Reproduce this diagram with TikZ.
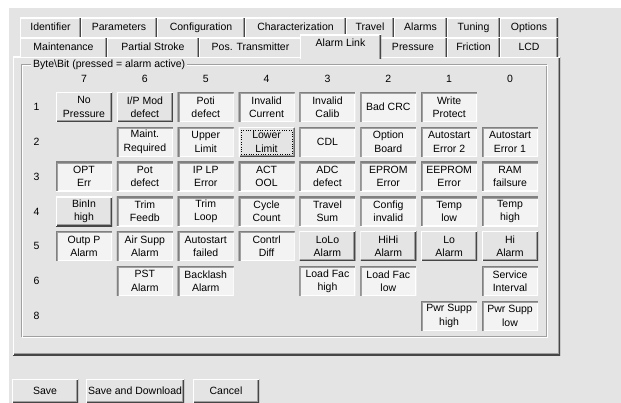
\documentclass[tikz,border=0pt]{standalone}
\usepackage{fontspec}
\setmainfont{Liberation Sans}
\usepackage{tikz}
\definecolor{winbg}{RGB}{228,228,228}
\definecolor{pressbg}{RGB}{243,243,243}
\definecolor{btnshade}{RGB}{160,160,160}
\definecolor{btnedge}{RGB}{70,70,70}

\begin{document}
\begin{tikzpicture}
   [x=1pt, y=-1pt,
    font=\fontsize{10.5}{13.4}\selectfont,
    % raised and sunken 3d boxes
    raised/.style={fill=winbg, inner sep=0pt, align=center,
      path picture={
        \draw[fill=none, btnshade, line width=4pt] (path picture bounding box.south west) -| (path picture bounding box.north east);
        \draw[fill=none, btnedge, line width=2pt] (path picture bounding box.south west) -| (path picture bounding box.north east);
        \draw[fill=none, white, line width=2pt] (path picture bounding box.south west) |- (path picture bounding box.north east);
      }},
    sunken/.style={fill=pressbg, inner sep=0pt, align=center,
      path picture={
        \draw[fill=none, white, line width=2pt] (path picture bounding box.south west) -| (path picture bounding box.north east);
        \draw[fill=none, btnshade, line width=4pt] (path picture bounding box.south west) |- (path picture bounding box.north east);
        \draw[fill=none, gray, line width=2pt] (path picture bounding box.south west) |- (path picture bounding box.north east);
      }},
    tab/.style={fill=winbg, inner sep=0pt, text height=8pt, text depth=2pt,
      path picture={
        \draw[fill=none, white, line width=2pt] (path picture bounding box.south west) |- (path picture bounding box.north east);
        \draw[fill=none, btnshade, line width=4pt] (path picture bounding box.south east) -- (path picture bounding box.north east);
        \draw[fill=none, btnedge, line width=2pt] (path picture bounding box.south east) -- (path picture bounding box.north east);
      }},
    btn/.style={minimum width=56pt, minimum height=29.5pt},
    cmd/.style={raised, minimum height=24pt}]

   \useasboundingbox (0,0) rectangle (621,403);
   \fill[white] (0,0) rectangle (621,403);
   \fill[winbg] (9,8) rectangle (621,403);

   % tab panel
   \node[raised, minimum width=547pt, minimum height=298pt] (panel) at (286.5,206) {};

   % back row of tabs
   \node[tab, minimum width=61pt, minimum height=20pt] (tident) at (50.5,28) {Identifier};
   \node[tab, minimum width=76pt, minimum height=20pt] (tparam) at (119,28) {Parameters};
   \node[tab, minimum width=88pt, minimum height=20pt] (tconf) at (201,28) {Configuration};
   \node[tab, minimum width=101pt, minimum height=20pt] (tchar) at (295.5,28) {Characterization};
   \node[tab, minimum width=48pt, minimum height=20pt] (ttravel) at (370,28) {Travel};
   \node[tab, minimum width=53pt, minimum height=20pt] (talarms) at (420.5,28) {Alarms};
   \node[tab, minimum width=53pt, minimum height=20pt] (ttuning) at (473.5,28) {Tuning};
   \node[tab, minimum width=58pt, minimum height=20pt] (toptions) at (529,28) {Options};

   % front row of tabs
   \node[tab, minimum width=87pt, minimum height=19pt] (tmaint) at (63.5,47.5) {Maintenance};
   \node[tab, minimum width=92pt, minimum height=19pt] (tpst) at (153,47.5) {Partial Stroke};
   \node[tab, minimum width=103pt, minimum height=19pt] (tpos) at (250.5,47.5) {Pos. Transmitter};
   \node[tab, minimum width=68pt, minimum height=19pt] (tpress) at (413,47.5) {Pressure};
   \node[tab, minimum width=53pt, minimum height=19pt] (tfric) at (473.5,47.5) {Friction};
   \node[tab, minimum width=58pt, minimum height=19pt] (tlcd) at (529,47.5) {LCD};
   \node[tab, text depth=8pt, minimum width=81pt, minimum height=24pt] (talarmlink) at (340.5,47) {Alarm Link};

   % group box
   \draw[btnshade] (21.5,64.5) rectangle (546.5,336.5);
   \draw[white] (22.5,65.5) rectangle (547.5,337.5);
   \node[fill=winbg, inner xsep=2pt, inner ysep=0pt, anchor=west] (grp) at (31,64.5)
     {Byte\textbackslash Bit (pressed = alarm active)};

   % bit numbers and byte numbers
   \foreach \b in {7, ..., 0} {
     \node (h\b) at (84 + 60.86*7 - 60.86*\b, 78.5) {\b};
   };
   \foreach \r [count=\k from 0] in {1, ..., 6, 8} {
     \node (r\r) at (36.5, 107 + 34.8*\k) {\r};
   };

   % alarm buttons, not pressed
   \foreach \r/\b/\txt in {1/7/{No\\Pressure}, 1/6/{I/P Mod\\defect}, 2/4/{Lower\\Limit},
       4/7/{BinIn\\high}, 5/3/{LoLo\\Alarm}, 5/2/{HiHi\\Alarm}, 5/1/{Lo\\Alarm}, 5/0/{Hi\\Alarm}} {
     \node[raised, btn] (b\r\b) at (h\b |- r\r) {\txt};
   };
   % alarm buttons, pressed
   \foreach \r/\b/\txt in {1/5/{Poti\\defect}, 1/4/{Invalid\\Current}, 1/3/{Invalid\\Calib},
       1/2/{Bad CRC}, 1/1/{Write\\Protect},
       2/6/{Maint.\\Required}, 2/5/{Upper\\Limit}, 2/3/{CDL}, 2/2/{Option\\Board},
       2/1/{Autostart\\Error 2}, 2/0/{Autostart\\Error 1},
       3/7/{OPT\\Err}, 3/6/{Pot\\defect}, 3/5/{IP LP\\Error}, 3/4/{ACT\\OOL}, 3/3/{ADC\\defect},
       3/2/{EPROM\\Error}, 3/1/{EEPROM\\Error}, 3/0/{RAM\\failsure},
       4/6/{Trim\\Feedb}, 4/5/{Trim\\Loop}, 4/4/{Cycle\\Count}, 4/3/{Travel\\Sum},
       4/2/{Config\\invalid}, 4/1/{Temp\\low}, 4/0/{Temp\\high},
       5/7/{Outp P\\Alarm}, 5/6/{Air Supp\\Alarm}, 5/5/{Autostart\\failed}, 5/4/{Contrl\\Diff},
       6/6/{PST\\Alarm}, 6/5/{Backlash\\Alarm}, 6/3/{Load Fac\\high}, 6/2/{Load Fac\\low},
       6/0/{Service\\Interval},
       8/1/{Pwr Supp\\high}, 8/0/{Pwr Supp\\low}} {
     \node[sunken, btn] (b\r\b) at (h\b |- r\r) {\txt};
   };
   % focus
   \draw[dotted] ([shift={(3,3)}]b24.north west) rectangle ([shift={(-3,-3)}]b24.south east);

   % command buttons
   \node[cmd, minimum width=66pt] (save) at (45,391) {Save};
   \node[cmd, minimum width=98pt] (savedl) at (135,391) {Save and Download};
   \node[cmd, minimum width=66pt] (cancel) at (226,391) {Cancel};
\end{tikzpicture}
\end{document}
